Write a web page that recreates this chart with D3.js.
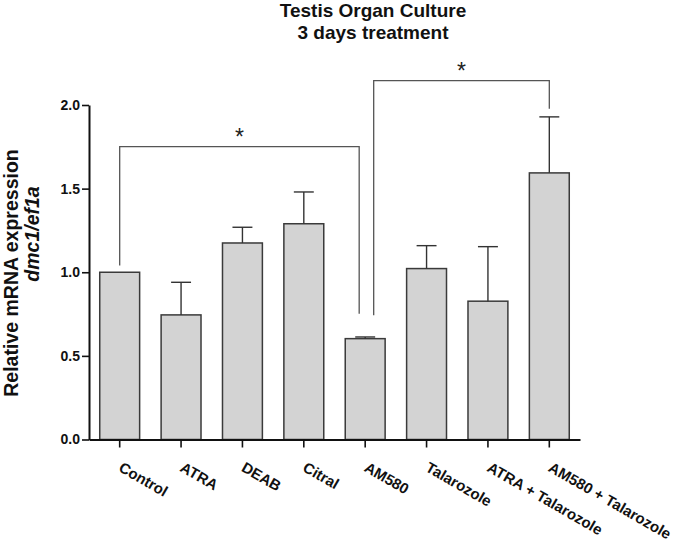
<!DOCTYPE html>
<html>
<head>
<meta charset="utf-8">
<script src="https://cdn.jsdelivr.net/npm/d3@7"></script>
<style>
  body { margin: 0; background: #fff; }
  svg { display: block; font-family: "Liberation Sans", Arial, sans-serif; }
</style>
</head>
<body>
<svg id="chart" width="675" height="544"></svg>
<script>
// ---- data ----
const categories = ["Control", "ATRA", "DEAB", "Citral", "AM580", "Talarozole", "ATRA + Talarozole", "AM580 + Talarozole"];
const means = [1.0, 0.745, 1.175, 1.29, 0.603, 1.022, 0.827, 1.594];
const sems  = [0.0, 0.195, 0.094, 0.19, 0.01, 0.137, 0.326, 0.335];
const yTicks = [0.0, 0.5, 1.0, 1.5, 2.0];
const titleLines = ["Testis Organ Culture", "3 days treatment"];
// significance brackets: from/to category, top value, leg bottom values
const sigFrom   = ["Control", "AM580"];
const sigTo     = ["AM580", "AM580 + Talarozole"];
const sigTop    = [1.751, 2.146];
const sigLeftB  = [1.04, 0.743];
const sigRightB = [0.752, 1.977];
const sigLabel  = ["*", "*"];

// ---- layout ----
const svg = d3.select("#chart");
const x0 = 89, x1 = 580, yTop = 105, yBot = 439.5;

const x = d3.scaleBand().domain(categories).range([x0, x1]).paddingInner(0.35).paddingOuter(0.175);
const y = d3.scaleLinear().domain([0, 2]).range([yBot, yTop]);

// title
svg.append("g").selectAll("text").data(titleLines).join("text")
  .attr("x", 373).attr("y", (d, i) => 16.5 + i * 22.5)
  .attr("text-anchor", "middle")
  .attr("font-size", "19px").attr("font-weight", "bold").attr("fill", "#111")
  .text(d => d);

// y axis label
svg.append("text")
  .attr("transform", "translate(18,273) rotate(-90)")
  .attr("text-anchor", "middle")
  .attr("font-size", "19.5px").attr("font-weight", "bold").attr("fill", "#111")
  .text("Relative mRNA expression");
svg.append("text")
  .attr("transform", "translate(39,234) rotate(-90)")
  .attr("text-anchor", "middle")
  .attr("font-size", "19.5px").attr("font-weight", "bold").attr("font-style", "italic").attr("fill", "#111")
  .text("dmc1/ef1a");

// bars
const bw = x.bandwidth();
svg.append("g").selectAll("rect").data(categories).join("rect")
  .attr("x", d => x(d))
  .attr("y", (d, i) => y(means[i]))
  .attr("width", bw)
  .attr("height", (d, i) => y(0) - y(means[i]))
  .attr("fill", "#d3d3d3")
  .attr("stroke", "#3a3a3a")
  .attr("stroke-width", 1.5);

// error bars
const eg = svg.append("g").attr("stroke", "#333").attr("stroke-width", 1.4);
categories.forEach((c, i) => {
  if (sems[i] <= 0) return;
  const cx = x(c) + bw / 2;
  eg.append("line").attr("x1", cx).attr("x2", cx).attr("y1", y(means[i])).attr("y2", y(means[i] + sems[i]));
  eg.append("line").attr("x1", cx - bw / 4).attr("x2", cx + bw / 4).attr("y1", y(means[i] + sems[i])).attr("y2", y(means[i] + sems[i]));
});

// significance brackets
const leftOff = [0, 8.5], rightOff = [-6, 0];
const bg = svg.append("g");
sigFrom.forEach((f, i) => {
  const xa = x(f) + bw / 2 + leftOff[i];
  const xb = x(sigTo[i]) + bw / 2 + rightOff[i];
  bg.append("path")
    .attr("d", `M${xa},${y(sigLeftB[i])}V${y(sigTop[i])}H${xb}V${y(sigRightB[i])}`)
    .attr("fill", "none").attr("stroke", "#555").attr("stroke-width", 1.3);
  bg.append("text")
    .attr("x", (xa + xb) / 2).attr("y", y(sigTop[i]) - 2)
    .attr("text-anchor", "middle")
    .attr("font-size", "23px").attr("fill", "#222")
    .text(sigLabel[i]);
});

// y axis
const yAxis = svg.append("g").attr("transform", `translate(${x0},0)`)
  .call(d3.axisLeft(y).tickValues(yTicks).tickFormat(d3.format(".1f")).tickSize(7).tickSizeOuter(0).tickPadding(2));
yAxis.select(".domain").attr("stroke", "#111").attr("stroke-width", 2);
yAxis.selectAll(".tick line").attr("stroke", "#111").attr("stroke-width", 1.6);
yAxis.selectAll(".tick text").attr("font-size", "14px").attr("font-weight", "bold").attr("fill", "#111")
  .attr("font-family", "Liberation Sans, Arial, sans-serif");

// x axis
const xAxis = svg.append("g").attr("transform", `translate(0,${yBot})`)
  .call(d3.axisBottom(x).tickSize(8).tickSizeOuter(0));
xAxis.select(".domain").attr("stroke", "#111").attr("stroke-width", 2);
xAxis.selectAll(".tick line").attr("stroke", "#111").attr("stroke-width", 1.6);
xAxis.selectAll(".tick text")
  .attr("font-size", "15px").attr("font-weight", "bold").attr("fill", "#111")
  .attr("font-family", "Liberation Sans, Arial, sans-serif")
  .attr("text-anchor", "start")
  .attr("dy", null)
  .attr("y", null)
  .attr("transform", "translate(-2,31) rotate(30)");
</script>
</body>
</html>
